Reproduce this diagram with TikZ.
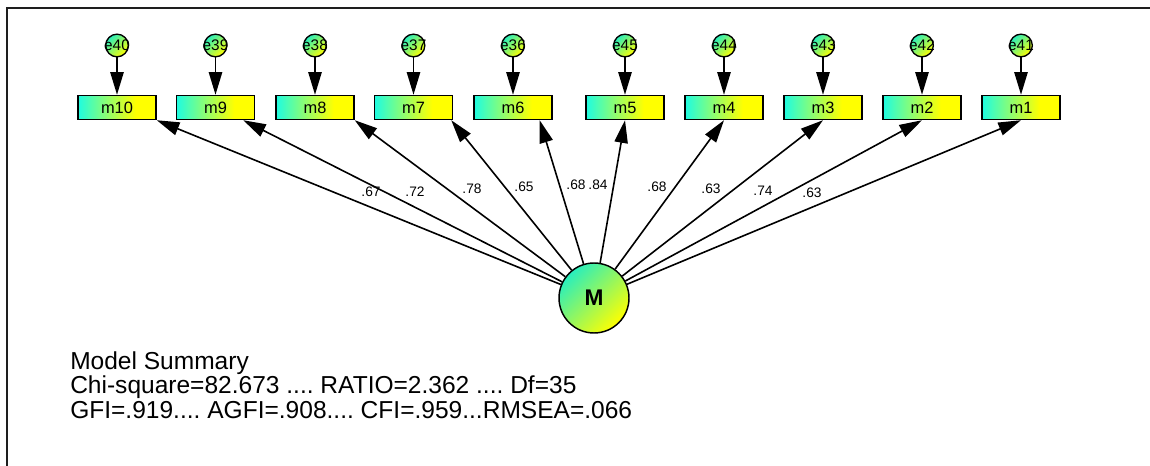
\documentclass[tikz,border=0pt]{standalone}
\usepackage{fontspec}
\setmainfont{Liberation Sans}
\usetikzlibrary{arrows.meta}
\definecolor{aqua}{RGB}{30,252,225}
\definecolor{yel}{RGB}{255,255,0}
\definecolor{limea}{RGB}{40,238,190}
\definecolor{framec}{RGB}{30,30,30}
\pgfdeclarehorizontalshading{boxshade}{100bp}{color(0bp)=(aqua); color(25bp)=(aqua); color(62bp)=(yel); color(100bp)=(yel)}
\frenchspacing
\begin{document}
\begin{tikzpicture}[x=0.75pt,y=-0.75pt,
  mbox/.style={draw=black, line width=1.1pt, shade, shading=boxshade, minimum width=58.5pt, minimum height=18pt, inner sep=0pt, font=\fontsize{12.3}{14}\selectfont},
  err/.style={circle, draw=black, line width=1pt, top color=limea, bottom color=yel, shading angle=45, minimum size=17pt, inner sep=0pt, font=\fontsize{11.5}{13}\selectfont},
  latent/.style={circle, draw=black, line width=1.1pt, top color=limea, bottom color=yel, shading angle=45, minimum size=52.5pt, inner sep=0pt, font=\fontsize{17}{20}\selectfont\bfseries},
  arr/.style={-{Triangle[length=17pt,width=10pt]}, line width=1.2pt},
  lbl/.style={font=\fontsize{10.3}{12}\selectfont, inner sep=0pt},
  summ/.style={anchor=base west, inner sep=0pt, font=\fontsize{18.4}{18.4}\selectfont}
]
\useasboundingbox (0,0) rectangle (1150,466);
\draw[line width=1.5pt, framec] (7,466) -- (7,8) -- (1150,8);

\foreach \n/\x in {m10/117, m9/215.5, m8/315, m7/413.5, m6/513, m5/625, m4/724, m3/823, m2/922, m1/1021}
  \node[mbox] (\n) at (\x,107.5) {\n};

\foreach \e/\m in {e40/m10, e39/m9, e38/m8, e37/m7, e36/m6, e45/m5, e44/m4, e43/m3, e42/m2, e41/m1}{
  \node[err] (\e) at (\m |- 0,45.5) {\makebox[0pt]{\e}};
  \draw[arr] (\e) -- (\m);
}

\node[latent] (M) at (594,298) {M};

\draw[arr] (M) -- (m10.south east);
\draw[arr] (M) -- ([xshift=-9pt]m9.south east);
\draw[arr] (M) -- (m8.south east);
\draw[arr] (M) -- ([xshift=-1.5pt]m7.south east);
\draw[arr] (M) -- ([xshift=20pt]m6.south);
\draw[arr] (M) -- (m5.south);
\draw[arr] (M) -- (m4.south);
\draw[arr] (M) -- (m3.south);
\draw[arr] (M) -- (m2.south);
\draw[arr] (M) -- (m1.south);

\node[lbl] (l10) at (371,192) {.67};
\node[lbl] (l9) at (415,192) {.72};
\node[lbl] (l8) at (472,189) {.78};
\node[lbl] (l7) at (524,187) {.65};
\node[lbl] (l6) at (576,185) {.68};
\node[lbl] (l5) at (598,185) {.84};
\node[lbl] (l4) at (657,187) {.68};
\node[lbl] (l3) at (711,189) {.63};
\node[lbl] (l2) at (763,191) {.74};
\node[lbl] (l1) at (812,193) {.63};

\node[summ] (s1) at (70,369.5) {Model Summary};
\node[summ] (s2) at (70,394) {Chi-square=82.673 .... RATIO=2.362 .... Df=35};
\node[summ] (s3) at (70,418.5) {GFI=.919.... AGFI=.908.... CFI=.959...RMSEA=.066};
\end{tikzpicture}
\end{document}
